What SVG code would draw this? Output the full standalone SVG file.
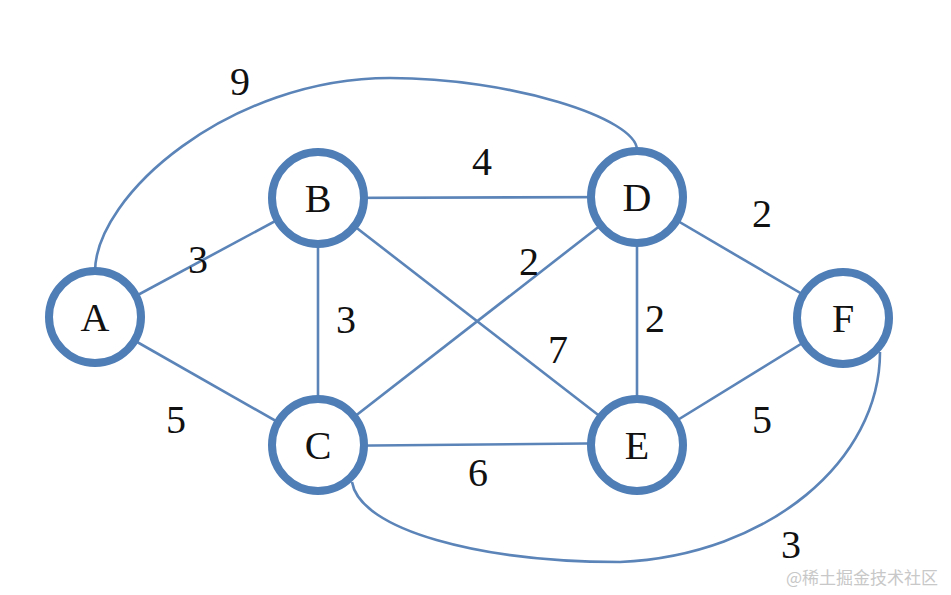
<svg xmlns="http://www.w3.org/2000/svg" width="951" height="595" viewBox="0 0 951 595">
<style>
.e{fill:none;stroke:#5b84b8;stroke-width:2.6}
.n circle{fill:#fff;stroke:#4f7db6;stroke-width:8}
.n text,.l{font-family:"Liberation Serif","Times New Roman",serif;font-size:40px;fill:#111;text-anchor:middle}
.w{font-family:"Noto Sans CJK SC","Noto Sans",sans-serif;font-size:17px;fill:#c8c8c8}
</style>
<rect width="951" height="595" fill="#fff"/>
<g id="connectors">
<path class="e" d="M95,272 C95,195 230,78 390,78 C510,78 637,118 637,150"/>
<path class="e" d="M352,482 C360,530 480,562 620,562 C770,555 880,460 880,352"/>
<line class="e" x1="95" y1="318" x2="318" y2="198"/>
<line class="e" x1="95" y1="318" x2="318" y2="445"/>
<line class="e" x1="318" y1="198" x2="637" y2="197"/>
<line class="e" x1="318" y1="198" x2="318" y2="445"/>
<line class="e" x1="318" y1="198" x2="637" y2="445"/>
<line class="e" x1="318" y1="445" x2="637" y2="197"/>
<line class="e" x1="637" y1="197" x2="637" y2="445"/>
<line class="e" x1="637" y1="197" x2="843" y2="318"/>
<line class="e" x1="637" y1="445" x2="843" y2="318"/>
<line class="e" x1="318" y1="446" x2="637" y2="443"/>
</g>
<g id="labels">
<text class="l" x="240" y="95">9</text>
<text class="l" x="198" y="273">3</text>
<text class="l" x="176" y="433">5</text>
<text class="l" x="482" y="175">4</text>
<text class="l" x="346" y="333">3</text>
<text class="l" x="558" y="363">7</text>
<text class="l" x="529" y="275">2</text>
<text class="l" x="655" y="332">2</text>
<text class="l" x="762" y="227">2</text>
<text class="l" x="762" y="433">5</text>
<text class="l" x="478" y="486">6</text>
<text class="l" x="791" y="558">3</text>
</g>
<g id="A" class="n"><circle cx="95" cy="317" r="46"/><text x="95" y="331">A</text></g>
<g id="B" class="n"><circle cx="318" cy="198" r="46"/><text x="318" y="212">B</text></g>
<g id="C" class="n"><circle cx="318" cy="445" r="46"/><text x="318" y="459">C</text></g>
<g id="D" class="n"><circle cx="637" cy="197" r="46"/><text x="637" y="211">D</text></g>
<g id="E" class="n"><circle cx="637" cy="445" r="46"/><text x="637" y="459">E</text></g>
<g id="F" class="n"><circle cx="843" cy="318" r="46"/><text x="843" y="332">F</text></g>
<text class="w" x="786" y="584">@稀土掘金技术社区</text>
</svg>
